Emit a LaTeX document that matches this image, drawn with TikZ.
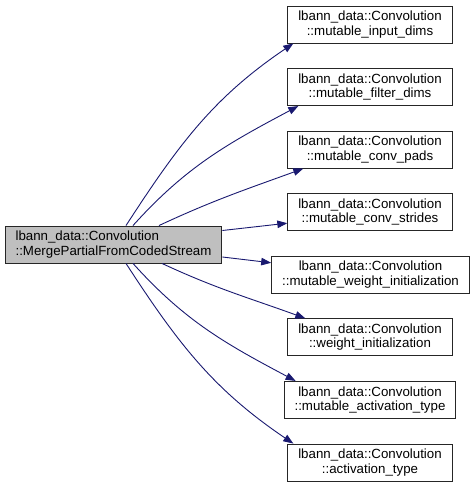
\documentclass[tikz,border=0pt]{standalone}
\usepackage{fontspec}
\setmainfont{Liberation Sans}
\usetikzlibrary{arrows.meta}
\definecolor{edgeblue}{HTML}{191970}
\definecolor{rootgray}{HTML}{BFBFBF}

\begin{document}
\begin{tikzpicture}[x=1pt,y=1pt,
  fn/.style={draw=black!85, fill=white, line width=0.9pt, align=center,
    font=\fontsize{13.3}{14.5}\selectfont, inner xsep=10.5pt, inner ysep=0pt,
    minimum height=37pt},
  rootfn/.style={fn, fill=rootgray, align=left},
  call/.style={edgeblue, line width=0.9pt, -{Triangle[length=10pt,width=7.5pt]}}]
\useasboundingbox (0,0) rectangle (475,488);
\node[rootfn] (merge) at (113.5,243.5) {lbann\_data::Convolution\\::MergePartialFromCodedStream};
\node[fn] (input) at (370,463.5) {lbann\_data::Convolution\\::mutable\_input\_dims};
\node[fn] (filter) at (370,400.9) {lbann\_data::Convolution\\::mutable\_filter\_dims};
\node[fn] (pads) at (370,338.4) {lbann\_data::Convolution\\::mutable\_conv\_pads};
\node[fn] (strides) at (370,275.8) {lbann\_data::Convolution\\::mutable\_conv\_strides};
\node[fn] (mwinit) at (370.5,213.2) {lbann\_data::Convolution\\::mutable\_weight\_initialization};
\node[fn] (winit) at (370,150.7) {lbann\_data::Convolution\\::weight\_initialization};
\node[fn] (mact) at (370,88.1) {lbann\_data::Convolution\\::mutable\_activation\_type};
\node[fn] (act) at (370,25.5) {lbann\_data::Convolution\\::activation\_type};
% calls
\draw[call] ([xshift=12.5pt]merge.north) to[out=57,in=214] ([xshift=6pt]input.south west);
\draw[call] ([xshift=19.5pt]merge.north) to[out=48,in=208] ([xshift=11pt]filter.south west);
\draw[call] ([xshift=45.5pt]merge.north) to[out=25,in=200] ([xshift=16pt]pads.south west);
\draw[call] ([yshift=14pt]merge.east) -- ([yshift=-11pt]strides.west);
\draw[call] ([yshift=-12.5pt]merge.east) -- ([yshift=12pt]mwinit.west);
\draw[call] ([xshift=48.5pt]merge.south) to[out=-25,in=160] ([xshift=18pt]winit.north west);
\draw[call] ([xshift=19.5pt]merge.south) to[out=-48,in=152] ([xshift=12pt]mact.north west);
\draw[call] ([xshift=12.5pt]merge.south) to[out=-57,in=146] ([xshift=6pt]act.north west);
\end{tikzpicture}
\end{document}
